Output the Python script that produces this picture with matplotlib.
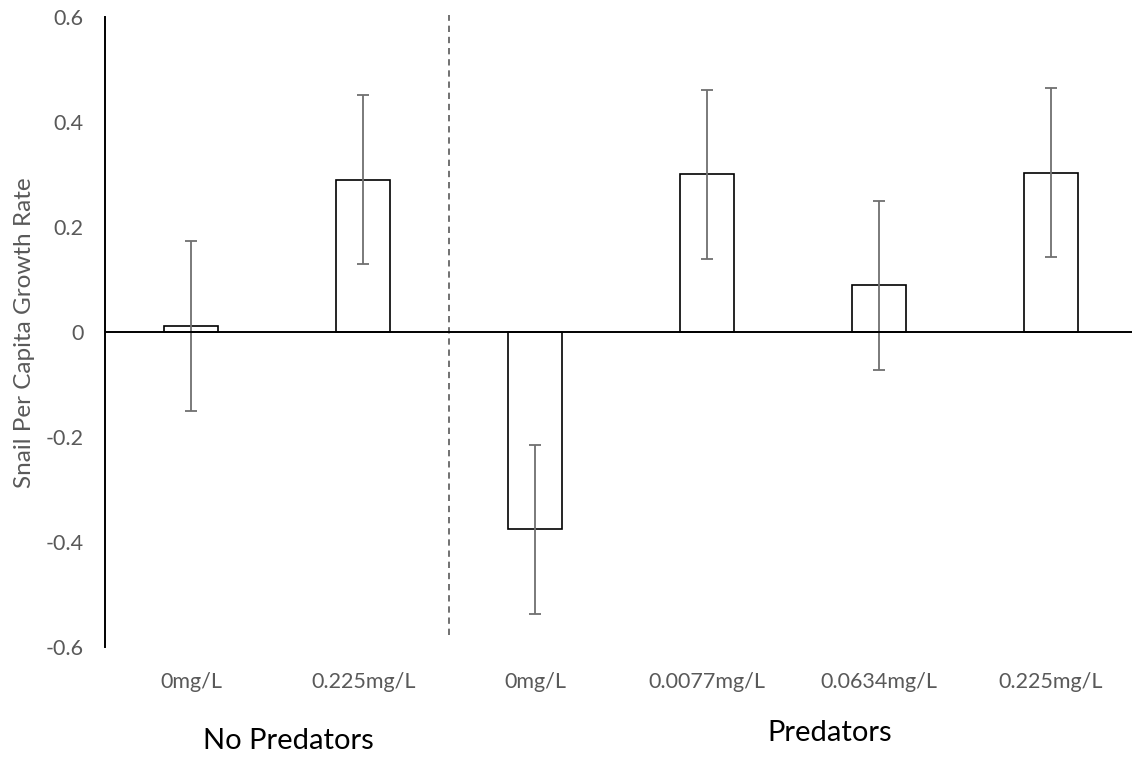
import matplotlib
matplotlib.use("Agg")
import matplotlib.pyplot as plt
import numpy as np

# ---- data ----
categories = ["0mg/L", "0.225mg/L", "0mg/L", "0.0077mg/L", "0.0634mg/L", "0.225mg/L"]
growth_rate = [0.012, 0.291, -0.375, 0.301, 0.090, 0.304]
error = [0.161, 0.161, 0.161, 0.161, 0.161, 0.161]
group_labels = ["No Predators", "Predators"]
y_ticks = [-0.6, -0.4, -0.2, 0, 0.2, 0.4, 0.6]
y_tick_labels = ["-0.6", "-0.4", "-0.2", "0", "0.2", "0.4", "0.6"]
y_label = "Snail Per Capita Growth Rate"

plt.rcParams['font.family'] = ['Lato', 'DejaVu Sans']
GRAY = "#595959"

fig = plt.figure(figsize=(11.32, 7.59), dpi=100)
ax = fig.add_axes([105.3 / 1132, (759 - 647.3) / 759, 1031.4 / 1132, 630 / 759])

x = np.arange(len(categories))
ax.bar(x, growth_rate, width=0.314, color="white", edgecolor="black", linewidth=1.2, zorder=3)
ax.errorbar(x, growth_rate, yerr=error, fmt="none", ecolor="#707070", elinewidth=1.3,
            capsize=4.5, capthick=1.3, zorder=4)
ax.axhline(0, color="black", linewidth=1.4, zorder=5)

# separator between groups
ax.plot([1.5, 1.5], [-0.577, 0.604], linestyle=(0, (3.8, 2.9)), color=GRAY,
        linewidth=1.2, clip_on=False, zorder=2)

ax.set_xlim(-0.5, 5.5)
ax.set_ylim(-0.6, 0.6)
ax.set_yticks(y_ticks)
ax.set_yticklabels(y_tick_labels)
ax.set_xticks(x)
ax.set_xticklabels(categories)
ax.tick_params(axis="y", length=0, pad=15.5, labelsize=15.5, labelcolor=GRAY)
ax.tick_params(axis="x", length=0, pad=18, labelsize=15.5, labelcolor=GRAY)

for s in ["top", "right", "bottom"]:
    ax.spines[s].set_visible(False)
ax.spines["left"].set_linewidth(1.4)
ax.spines["left"].set_color("black")

ax.set_ylabel(y_label, fontsize=17.5, color=GRAY, va="center")
ax.yaxis.set_label_coords((25 - 105.3) / 1031.4, 0.5)

fig.text(288 / 1132, 1 - 741 / 759, group_labels[0], ha="center", va="center",
         fontsize=21, color="black")
fig.text(830 / 1132, 1 - 733 / 759, group_labels[1], ha="center", va="center",
         fontsize=21, color="black")

fig.savefig("out.png", dpi=100)
